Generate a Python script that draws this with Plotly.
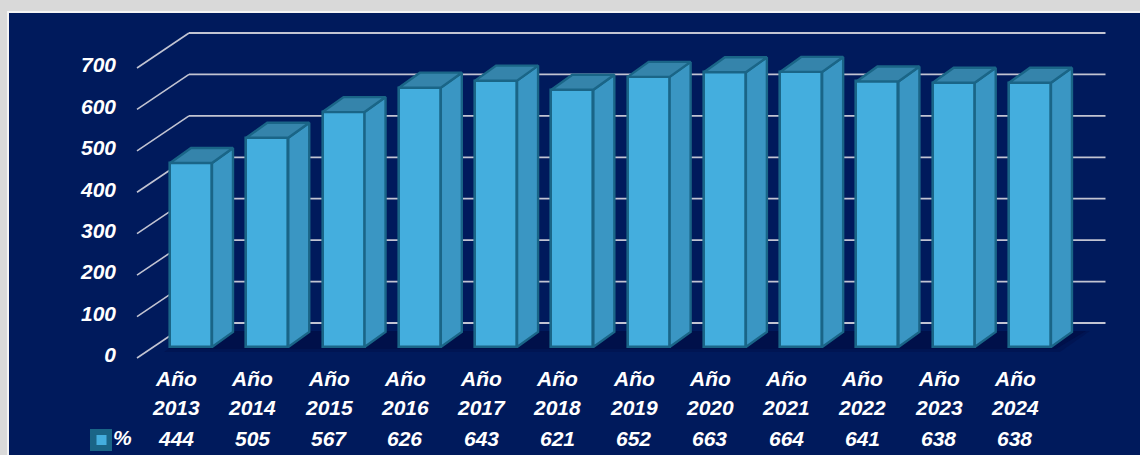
import plotly.graph_objects as go

years = ["2013","2014","2015","2016","2017","2018","2019","2020","2021","2022","2023","2024"]
values = [444,505,567,626,643,621,652,663,664,641,638,638]
ticks = [0,100,200,300,400,500,600,700]
legend_label = "%"
prefix = "Año"

W, H = 1140, 455
L = 120
PX_X0, PX_STEP = 191.0, 76.27    # pixel of category 0, pixels per category
PX_Y0, KY = 347.0, 0.4143        # pixel of value 0 at the bars' front, pixels per unit
BAR_W = 42 / PX_STEP
DX = 21 / PX_STEP
DY = 15 / KY

NAVY = "#001a5c"; GRAY = "#d9d9d9"
FRONT = "#44aede"; SIDE = "#3a96c3"; TOP = "#3584ab"; EDGE = "#1a6587"
GRID = "#c2c4d2"; SHADOW = "#00104a"

xdata = lambda px: (px - PX_X0) / PX_STEP
ydata = lambda py: (PX_Y0 - py) / KY
xpaper = lambda px: (px - L) / (W - L)
ypaper = lambda py: 1 - py / H

fig = go.Figure()
n = range(len(values))

fig.add_trace(go.Bar(x=list(n), y=values, width=BAR_W, name=legend_label,
                     marker=dict(color=FRONT, line=dict(color=EDGE, width=2.6)),
                     showlegend=False))
for i, v in zip(n, values):
    l, r = i - BAR_W / 2, i + BAR_W / 2
    fig.add_trace(go.Scatter(x=[r, r + DX, r + DX, r, r], y=[v, v + DY, DY, 0, v],
                             mode="lines", fill="toself", fillcolor=SIDE,
                             line=dict(color=EDGE, width=2.4), hoverinfo="skip", showlegend=False))
    fig.add_trace(go.Scatter(x=[l, l + DX, r + DX, r, l], y=[v, v + DY, v + DY, v, v],
                             mode="lines", fill="toself", fillcolor=TOP,
                             line=dict(color=EDGE, width=2.4), hoverinfo="skip", showlegend=False))

# invisible carrier so the label axis exists
fig.add_trace(go.Scatter(x=[0], y=[0], yaxis="y2", mode="markers", marker=dict(opacity=0),
                         hoverinfo="skip", showlegend=False))

shapes = [
    dict(type="rect", xref="paper", yref="paper", x0=xpaper(8), x1=xpaper(1145), y0=ypaper(460), y1=ypaper(12),
         fillcolor=NAVY, line=dict(color="#f4f4f4", width=2), layer="below"),
]
# floor shadow
for a, b, op in [(4, 3, 0.45), (0, 0, 1.0)]:
    x0, x1, x2, x3 = xdata(168 - a), xdata(1056 + a), xdata(1086 + a), xdata(196 - a)
    y0, y1 = ydata(349 + b), ydata(331)
    shapes.append(dict(type="path", xref="x", yref="y", layer="below", opacity=op,
                       path=f"M{x0},{y0} L{x1},{y0} L{x2},{y1} L{x3},{y1} Z",
                       fillcolor=SHADOW, line=dict(width=0)))
# back wall and side wall gridlines
for t in ticks:
    shapes.append(dict(type="line", xref="x", yref="y", layer="below",
                       x0=xdata(137), y0=t + ydata(358), x1=xdata(189), y1=t + ydata(323),
                       line=dict(color=GRID, width=1.6)))
    shapes.append(dict(type="line", xref="x", yref="y", layer="below",
                       x0=xdata(189), y0=t + ydata(323), x1=xdata(1105.5), y1=t + ydata(323),
                       line=dict(color=GRID, width=1.8)))
# legend key
shapes.append(dict(type="rect", xref="paper", yref="paper", x0=xpaper(91), x1=xpaper(111), y0=ypaper(450), y1=ypaper(430),
                   fillcolor=EDGE, line=dict(color=EDGE, width=2), layer="above"))
shapes.append(dict(type="rect", xref="paper", yref="paper", x0=xpaper(96.5), x1=xpaper(106.5), y0=ypaper(445), y1=ypaper(435),
                   fillcolor=FRONT, line=dict(width=0), layer="above"))

font = dict(family="Liberation Sans", size=21, color="white", weight=700, style="italic")
ann = []
def label(text, x, py, xref="x"):
    ann.append(dict(text=text, x=x, y=ypaper(py), xref=xref, yref="paper", showarrow=False,
                    xanchor="center", yanchor="middle", font=font))
for i, y, v in zip(n, years, values):
    x = i - 15 / PX_STEP
    label(prefix, x, 378)
    label(y, x, 407)
    label(str(v), x, 438)
label(legend_label, xpaper(122), 437, xref="paper")

fig.update_layout(
    width=W, height=H, margin=dict(l=L, r=0, t=0, b=0), autosize=False,
    paper_bgcolor=GRAY, plot_bgcolor="rgba(0,0,0,0)", showlegend=False,
    xaxis=dict(range=[xdata(L), xdata(W)], visible=False, fixedrange=True),
    yaxis=dict(range=[ydata(H), ydata(0)], visible=False, fixedrange=True),
    yaxis2=dict(overlaying="y", side="left", anchor="x",
                range=[(355 - H) / KY, 355 / KY], tickvals=ticks, ticktext=[str(t) for t in ticks],
                tickfont=font, showgrid=False, zeroline=False, showline=False, ticks="",
                ticklabelstandoff=3, fixedrange=True),
    shapes=shapes, annotations=ann, bargap=0,
)
fig.write_html("out.html", config=dict(displayModeBar=False),
               post_script="document.body.style.margin='0';document.body.style.overflow='hidden';")
